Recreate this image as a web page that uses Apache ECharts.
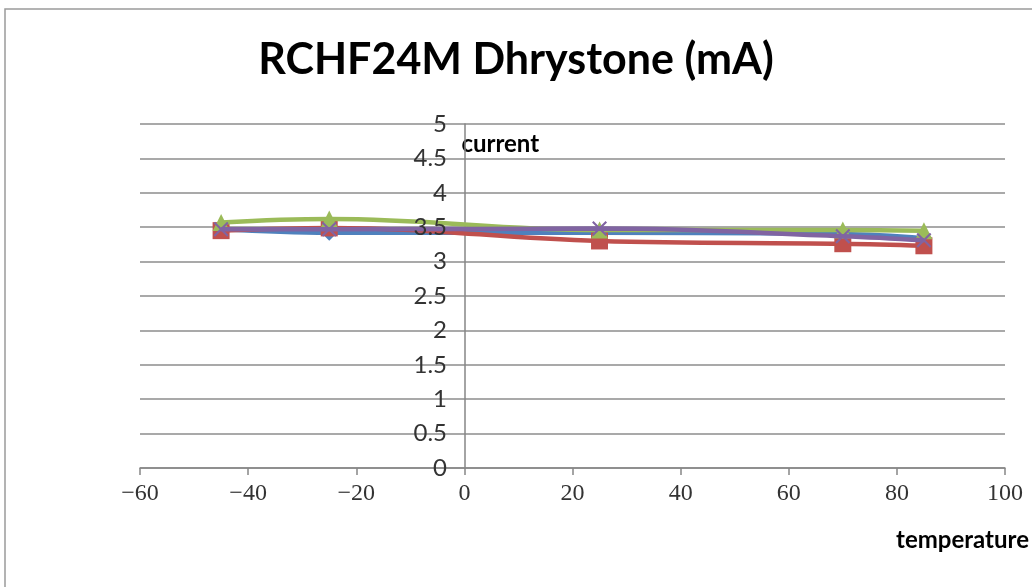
<!DOCTYPE html>
<html>
<head>
<meta charset="utf-8">
<script src="https://cdn.jsdelivr.net/npm/echarts@6/dist/echarts.min.js"></script>
<style>
html,body{margin:0;padding:0;background:#fff;}
#chart{width:1032px;height:587px;}
</style>
</head>
<body>
<div id="chart"></div>
<script>
const temperatures = [-45, -25, 25, 70, 85];
const series1 = [3.47, 3.42, 3.42, 3.40, 3.34];
const series2 = [3.45, 3.49, 3.30, 3.26, 3.23];
const series3 = [3.57, 3.62, 3.46, 3.46, 3.45];
const series4 = [3.47, 3.47, 3.48, 3.37, 3.31];
const seriesNames = ['Series1', 'Series2', 'Series3', 'Series4'];
const xTicks = {min: -60, max: 100, interval: 20};
const yTicks = {min: 0, max: 5, interval: 0.5};

const colors = ['#4F81BD', '#C0504D', '#9BBB59', '#8064A2'];
const symbols = ['diamond', 'rect', 'triangle',
  'path://M1,0 L5,4 L9,0 L10,1 L6,5 L10,9 L9,10 L5,6 L1,10 L0,9 L4,5 L0,1 Z'];
const sizes = [16, 17, 17, 15];
const allData = [series1, series2, series3, series4];

const chart = echarts.init(document.getElementById('chart'));
chart.setOption({
  animation: false,
  backgroundColor: '#ffffff',
  title: {
    text: 'RCHF24M Dhrystone (mA)',
    left: 'center',
    top: 34,
    textStyle: {fontFamily: 'Lato', fontWeight: 'bold', fontSize: 43, color: '#000'}
  },
  graphic: [{
    type: 'rect',
    shape: {x: 5, y: 9, width: 1040, height: 600},
    style: {fill: 'none', stroke: '#9a9a9a', lineWidth: 1.5},
    silent: true
  }],
  grid: {left: 140, right: 27, top: 124, bottom: 119, containLabel: false},
  xAxis: {
    type: 'value',
    min: xTicks.min, max: xTicks.max, interval: xTicks.interval,
    name: 'temperature',
    nameLocation: 'end',
    nameGap: 24,
    nameTextStyle: {fontFamily: 'Lato', fontWeight: 'bold', fontSize: 24, color: '#000',
      align: 'right', verticalAlign: 'top', padding: [60, 0, 0, 0]},
    axisLine: {onZero: false, lineStyle: {color: '#868686', width: 1.5}},
    axisTick: {show: true, inside: false, length: 7, lineStyle: {color: '#868686', width: 1.5}},
    axisLabel: {
      margin: 14,
      fontFamily: 'Liberation Serif', fontSize: 24, color: '#333',
      formatter: v => String(v).replace('-', '\u2212')
    },
    splitLine: {show: false}
  },
  yAxis: [{
    type: 'value',
    min: yTicks.min, max: yTicks.max, interval: yTicks.interval,
    name: 'current',
    nameLocation: 'end',
    nameGap: -8,
    nameTextStyle: {fontFamily: 'Lato', fontWeight: 'bold', fontSize: 24, color: '#000',
      align: 'left', verticalAlign: 'top', padding: [0, 0, 0, -3]},
    axisLine: {show: true, onZero: true, lineStyle: {color: '#868686', width: 1.5}},
    axisTick: {show: false},
    axisLabel: {show: false},
    splitLine: {show: true, lineStyle: {color: '#8c8c8c', width: 1.5}}
  }, {
    type: 'value',
    position: 'left',
    min: yTicks.min, max: yTicks.max, interval: yTicks.interval,
    z: 20,
    axisLine: {show: false, onZero: false},
    axisTick: {show: false},
    splitLine: {show: false},
    axisLabel: {
      margin: -307,
      fontFamily: 'Lato', fontSize: 24, color: '#333',
      formatter: v => String(v)
    }
  }],
  series: allData.map((d, i) => ({
    name: seriesNames[i],
    type: 'line',
    smooth: 0.4,
    data: temperatures.map((t, j) => [t, d[j]]),
    symbol: symbols[i],
    symbolSize: sizes[i],
    lineStyle: {color: colors[i], width: 4.5},
    itemStyle: {color: colors[i]},
    z: 2 + i
  }))
});
</script>
</body>
</html>
